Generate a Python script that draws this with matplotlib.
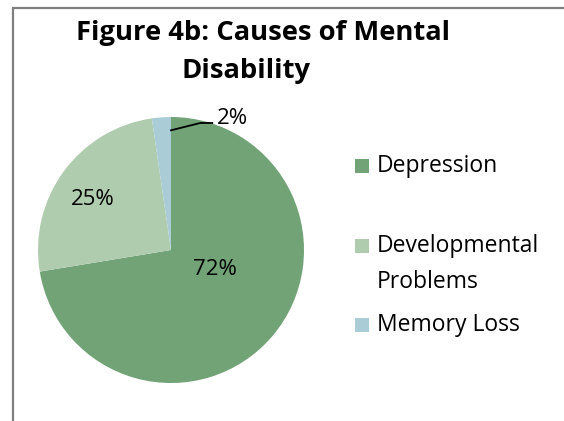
import matplotlib
matplotlib.use('Agg')
import matplotlib.pyplot as plt
from matplotlib.patches import Rectangle
from matplotlib.lines import Line2D

# data
causes = ["Depression", "Developmental\nProblems", "Memory Loss"]
shares = [72.4, 25.3, 2.3]
pct_labels = ["72%", "25%", "2%"]
colors = ["#71A377", "#B0CCAE", "#AACCD6"]

plt.rcParams['font.family'] = ['Open Sans', 'DejaVu Sans']

W, H = 564, 421
fig = plt.figure(figsize=(W / 100, H / 100), dpi=100)

# chart frame (cropped at right and bottom in the reference)
fig.add_artist(Rectangle((13 / W, -0.2), 1.2, 1 - 8 / H + 0.2, transform=fig.transFigure,
                         fill=False, edgecolor="#7F7F7F", linewidth=1.6))

# pie axes: centre (171, 250) px, radius 133 px
cx, cy, r = 171, 250, 133
ax = fig.add_axes([(cx - r) / W, 1 - (cy + r) / H, 2 * r / W, 2 * r / H])
ax.pie(shares, colors=colors, startangle=90, counterclock=False,
       wedgeprops=dict(linewidth=0))
ax.set_xlim(-1, 1)
ax.set_ylim(-1, 1)
ax.set_aspect('equal')
ax.axis('off')

# data label placement (Excel best fit)
label_pos = [(0.33, -0.15), (-0.59, 0.38), (0.46, 0.99)]
for txt, (x, y) in zip(pct_labels, label_pos):
    ax.text(x, y, txt, ha='center', va='center', fontsize=16, clip_on=False)
# leader line for the small slice
ax.add_line(Line2D([0.0, 0.22, 0.31], [0.90, 0.955, 0.955], color='black', lw=1.3,
                   clip_on=False))

# title
fig.text(263 / W, 1 - 33 / H, "Figure 4b: Causes of Mental", ha='center', va='center',
         fontsize=19.7, fontweight='bold')
fig.text(246 / W, 1 - 71 / H, "Disability", ha='center', va='center',
         fontsize=19.7, fontweight='bold')

# legend
leg_y = [166, 264, 325]
for lab, col, y in zip(causes, colors, leg_y):
    if "\n" in lab:
        sq_y = y - 18
    else:
        sq_y = y
    fig.add_artist(Rectangle((355 / W, 1 - (sq_y + 7) / H), 14 / W, 14 / H,
                             transform=fig.transFigure, facecolor=col, edgecolor='none'))
    fig.text(377 / W, 1 - y / H, lab, ha='left', va='center', fontsize=16.5,
             linespacing=1.7)

fig.savefig("out.png", dpi=100)
